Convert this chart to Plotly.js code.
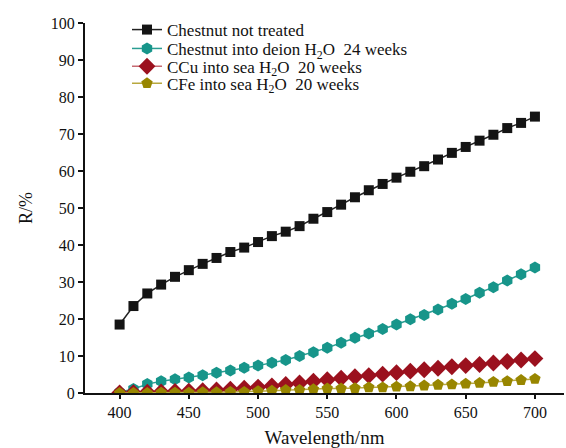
<!DOCTYPE html>
<html>
<head>
<meta charset="utf-8">
<script src="https://cdn.plot.ly/plotly-3.0.1.min.js"></script>
<style>html,body{margin:0;padding:0;background:#fff;}#chart{width:566px;height:448px;}</style>
</head>
<body>
<div id="chart"></div>
<script>
const wavelength = [400,410,420,430,440,450,460,470,480,490,500,510,520,530,540,550,560,570,580,590,600,610,620,630,640,650,660,670,680,690,700];
const untreated = [18.5,23.5,26.9,29.3,31.4,33.2,34.9,36.5,38.1,39.3,40.8,42.4,43.6,45.1,47.1,48.9,50.9,52.9,54.8,56.5,58.2,59.8,61.3,63.1,64.9,66.5,68.2,69.8,71.6,73.0,74.7];
const deion24 = [0.2,1.1,2.4,3.2,3.7,4.2,4.8,5.5,6.1,6.8,7.4,8.2,8.9,10.0,11.0,12.2,13.6,14.9,16.1,17.3,18.5,19.9,21.1,22.6,24.1,25.4,27.1,28.6,30.4,32.1,33.9];
const ccuSea20 = [0.0,0.1,0.2,0.3,0.4,0.5,0.6,0.8,1.0,1.3,1.6,1.9,2.3,2.7,3.2,3.6,4.0,4.4,4.7,5.1,5.5,5.9,6.3,6.7,7.1,7.4,7.7,8.1,8.5,8.9,9.3];
const cfeSea20 = [0.0,0.0,0.0,0.1,0.1,0.1,0.2,0.2,0.3,0.3,0.5,0.6,0.8,0.8,1.0,1.2,1.2,1.3,1.5,1.5,1.7,1.8,2.0,2.2,2.3,2.5,2.7,3.0,3.2,3.5,3.8];
const seriesNames = ["Chestnut not treated","Chestnut into deion H<sub>2</sub>O  24 weeks","CCu into sea H<sub>2</sub>O  20 weeks","CFe into sea H<sub>2</sub>O  20 weeks"];
const xTicks = [400,450,500,550,600,650,700];
const yTicks = [0,10,20,30,40,50,60,70,80,90,100];

const serif = "Liberation Serif, Times New Roman, serif";
function tr(y, name, lineColor, markColor, symbol, size, leg){
  return {x: wavelength, y: y, name: name, type: "scatter", mode: "lines+markers", legend: leg,
    line: {color: lineColor, width: 1.5},
    marker: {symbol: symbol, size: size, color: markColor, line: {width: 0}}};
}
const data = [
  tr(untreated, seriesNames[0], "#222222", "#141414", "square", 10, "legend"),
  tr(deion24, seriesNames[1], "#2a9d92", "#17958a", "hexagon", 12, "legend2"),
  tr(ccuSea20, seriesNames[2], "#c66a72", "#9b111e", "diamond", 13, "legend3"),
  tr(cfeSea20, seriesNames[3], "#b8a83e", "#988600", "pentagon", 12, "legend4")
];
function leg(y){
  return {x: 0.0877, y: y, xanchor: "left", yanchor: "middle", bgcolor: "rgba(0,0,0,0)",
    font: {family: serif, size: 17, color: "#111"}, itemwidth: 30, borderwidth: 0};
}
const layout = {
  width: 566, height: 448,
  margin: {l: 85, r: 2, t: 23, b: 55},
  paper_bgcolor: "#fff", plot_bgcolor: "#fff",
  font: {family: serif, color: "#111", size: 16},
  showlegend: true,
  legend: leg(0.981),
  legend2: leg(0.930),
  legend3: leg(0.882),
  legend4: leg(0.836),
  xaxis: {range: [375, 721], tickvals: xTicks, ticktext: xTicks.map(String),
    showgrid: false, zeroline: false, showline: true, linecolor: "#111", linewidth: 2,
    ticks: "outside", ticklen: 4, tickwidth: 2, tickcolor: "#111",
    tickfont: {family: serif, size: 16, color: "#111"},
    title: {text: "Wavelength/nm", font: {family: serif, size: 19, color: "#111"}, standoff: 13}},
  yaxis: {range: [0, 100], tickvals: yTicks, ticktext: yTicks.map(String),
    showgrid: false, zeroline: false, showline: true, linecolor: "#111", linewidth: 2,
    ticks: "outside", ticklen: 5, tickwidth: 2, tickcolor: "#111",
    tickfont: {family: serif, size: 16, color: "#111"},
    title: {text: "R/%", font: {family: serif, size: 18, color: "#111"}, standoff: 13}}
};
Plotly.newPlot("chart", data, layout, {displayModeBar: false, staticPlot: true});
</script>
</body>
</html>
